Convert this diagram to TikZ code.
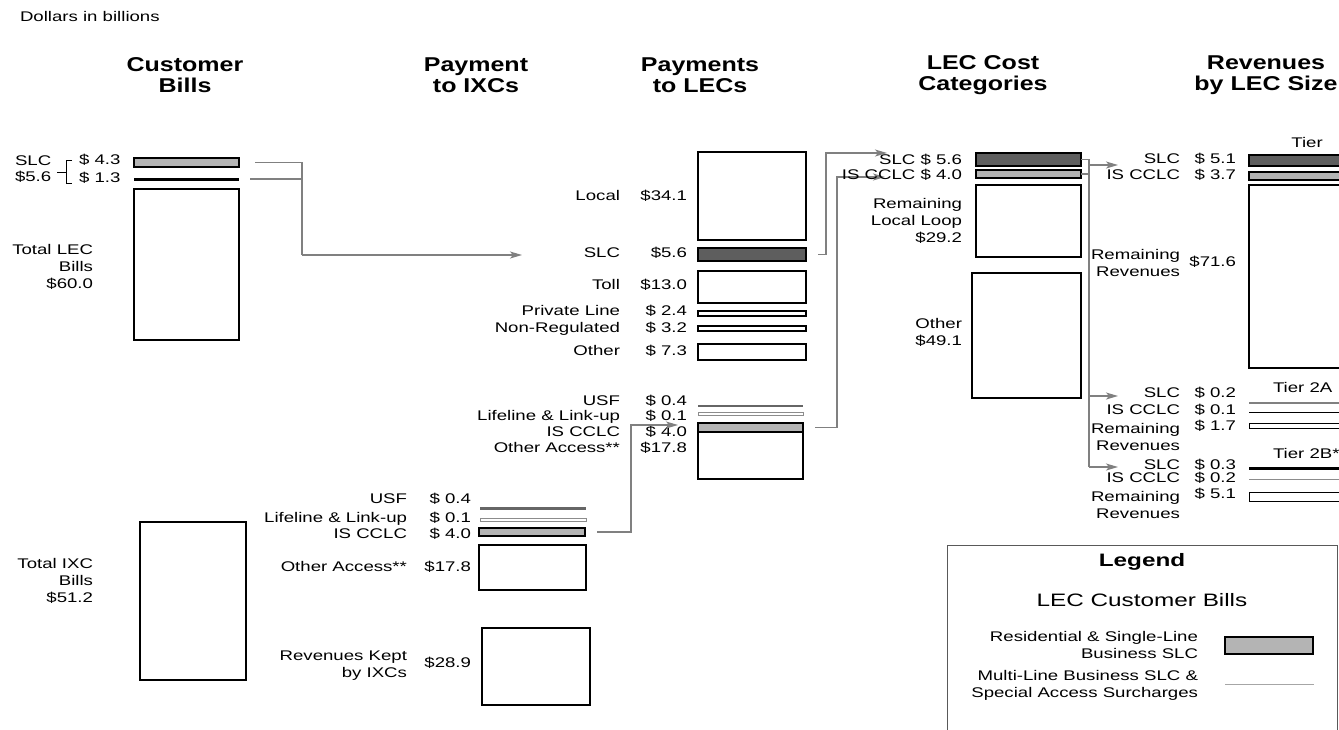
\documentclass[tikz,border=0pt]{standalone}
\usepackage{fontspec}
\setmainfont{Liberation Sans}
\newfontfamily\labfont[FakeStretch=1.33]{Liberation Sans}
\newfontfamily\hdfont[FakeStretch=1.25]{Liberation Sans}
\newfontfamily\lgfont[FakeStretch=1.35]{Liberation Sans}
\usetikzlibrary{arrows.meta,calc}
\definecolor{darkfill}{HTML}{5E5E5E}
\definecolor{lightfill}{HTML}{B4B4B4}
\definecolor{connc}{HTML}{808080}
\begin{document}
\begin{tikzpicture}[x=1pt,y=-1pt,
  lab/.style={font=\labfont\fontsize{14}{17}\selectfont, inner sep=0pt, outer sep=0pt},
  labm/.style={lab, align=right},
  head/.style={font=\hdfont\bfseries\fontsize{20}{21}\selectfont, inner sep=0pt, align=center},
  box/.style={draw=black, line width=1.3pt, fill=white, inner sep=0pt, outer sep=0pt, anchor=north west},
  bar/.style={draw=none, inner sep=0pt, outer sep=0pt, anchor=north west},
  dbl/.style={draw=black!45, line width=0.8pt, fill=white, inner sep=0pt, outer sep=0pt, anchor=north west},
  conn/.style={draw=connc, line width=1.3pt},
  arr/.style={conn, -{Stealth[length=12pt,width=7pt,inset=3pt]}}]
\clip (0,0) rectangle (1339,729);
\fill[white] (0,0) rectangle (1339,729);

% title and headings
\node[lab, anchor=mid west] (title) at (20,19) {Dollars in billions};
\node[head] (hCB) at (185,75) {Customer\\Bills};
\node[head] (hIX) at (476,75) {Payment\\to IXCs};
\node[head] (hLE) at (700,75) {Payments\\to LECs};
\node[head] (hLC) at (983,75) {LEC Cost\\Categories};
\node[head] (hRV) at (1266,75) {Revenues\\by LEC Size};

% Customer bills
\node[box, fill=lightfill, minimum width=105pt, minimum height=9pt] (cbR) at (134,158) {};
\node[bar, fill=black, minimum width=105pt, minimum height=3pt] (cbM) at (134,177.5) {};
\node[box, minimum width=105pt, minimum height=151pt] (cbT) at (134,189) {};
\node[box, minimum width=106pt, minimum height=158pt] (ixT) at (140,522) {};
\node[lab, anchor=mid west] (lSLC) at (15,163) {SLC};
\node[lab, anchor=mid west] (l56) at (15,179) {\$5.6};
\draw[line width=0.8pt] (57,172) -- (66,172) (72,160) -- (66,160) -- (66,183) -- (72,183);
\node[lab, anchor=mid west] (l43) at (79,162) {\$ 4.3};
\node[lab, anchor=mid west] (l13) at (79,180) {\$ 1.3};
\node[labm, anchor=east] (lTot) at (93,267) {Total LEC\\Bills\\\$60.0};
\node[labm, anchor=east] (lIxT) at (93,581) {Total IXC\\Bills\\\$51.2};

\coordinate (j1) at (302,255);
\coordinate (slcIn) at (522,255);
\draw[conn] ([xshift=16pt]cbR.east) -| (j1);
\draw[conn] ([xshift=11pt]cbM.east) -- (cbM.east -| j1);
\draw[arr] (j1) -- (slcIn);

% Payments to LECs
\node[box, minimum width=108pt, minimum height=88pt] (pLocal) at (698,152) {};
\node[box, fill=darkfill, minimum width=108pt, minimum height=13pt] (pSLC) at (698,248) {};
\node[box, minimum width=108pt, minimum height=32pt] (pToll) at (698,271) {};
\node[box, minimum width=108pt, minimum height=5pt] (pPriv) at (698,311) {};
\node[box, minimum width=108pt, minimum height=5pt] (pNon) at (698,326) {};
\node[box, minimum width=108pt, minimum height=16pt] (pOther) at (698,344) {};
\node[bar, fill=black!60, minimum width=105pt, minimum height=2.5pt] (pUSF) at (698,404.5) {};
\node[dbl, minimum width=105pt, minimum height=3pt] (pLife) at (698,412) {};
\node[box, minimum width=105pt, minimum height=47pt] (pOA) at (698,432) {};
\node[box, fill=lightfill, minimum width=105pt, minimum height=9pt] (pCCLC) at (698,423) {};

\node[lab, anchor=mid east] (nLocal) at (620,198) {Local};
\node[lab, anchor=mid east] (vLocal) at (687,198) {\$34.1};
\node[lab, anchor=mid east] (nSLC) at (620,255) {SLC};
\node[lab, anchor=mid east] (vSLC) at (687,255) {\$5.6};
\node[lab, anchor=mid east] (nToll) at (620,287) {Toll};
\node[lab, anchor=mid east] (vToll) at (687,287) {\$13.0};
\node[lab, anchor=mid east] (nPriv) at (620,313) {Private Line};
\node[lab, anchor=mid east] (vPriv) at (687,313) {\$ 2.4};
\node[lab, anchor=mid east] (nNon) at (620,330) {Non-Regulated};
\node[lab, anchor=mid east] (vNon) at (687,330) {\$ 3.2};
\node[lab, anchor=mid east] (nOth) at (620,353) {Other};
\node[lab, anchor=mid east] (vOth) at (687,353) {\$ 7.3};
\node[lab, anchor=mid east] (nUSF) at (620,403) {USF};
\node[lab, anchor=mid east] (vUSF) at (687,403) {\$ 0.4};
\node[lab, anchor=mid east] (nLife) at (620,418) {Lifeline \& Link-up};
\node[lab, anchor=mid east] (vLife) at (687,418) {\$ 0.1};
\node[lab, anchor=mid east] (nCCLC) at (620,434) {IS CCLC};
\node[lab, anchor=mid east] (vCCLC) at (687,434) {\$ 4.0};
\node[lab, anchor=mid east] (nOA) at (620,450) {Other Access**};
\node[lab, anchor=mid east] (vOA) at (687,450) {\$17.8};

\coordinate (j2) at (826,153);
\coordinate (cSLCin) at (887,153);
\draw[arr] ([xshift=12pt]pSLC.east) -| (j2) -- (cSLCin);
\coordinate (j3) at (837,177);
\coordinate (cCCLCin) at (885,177);
\draw[arr] ([xshift=12pt]pCCLC.east) -| (j3) -- (cCCLCin);

% Payment to IXCs
\node[bar, fill=black!60, minimum width=106pt, minimum height=2.5pt] (iUSF) at (480,507) {};
\node[dbl, minimum width=106pt, minimum height=3pt] (iLife) at (480,518.5) {};
\node[box, fill=lightfill, minimum width=106pt, minimum height=8pt] (iCCLC) at (479,528) {};
\node[box, minimum width=107pt, minimum height=45pt] (iOA) at (479,545) {};
\node[box, minimum width=108pt, minimum height=77pt] (iKept) at (482,628) {};

\node[lab, anchor=mid east] (inUSF) at (407,501) {USF};
\node[lab, anchor=mid east] (ivUSF) at (471,501) {\$ 0.4};
\node[lab, anchor=mid east] (inLife) at (407,520) {Lifeline \& Link-up};
\node[lab, anchor=mid east] (ivLife) at (471,520) {\$ 0.1};
\node[lab, anchor=mid east] (inCCLC) at (407,536) {IS CCLC};
\node[lab, anchor=mid east] (ivCCLC) at (471,536) {\$ 4.0};
\node[lab, anchor=mid east] (inOA) at (407,569) {Other Access**};
\node[lab, anchor=mid east] (ivOA) at (471,569) {\$17.8};
\node[labm, anchor=east] (inKept) at (407,666) {Revenues Kept\\by IXCs};
\node[lab, anchor=mid east] (ivKept) at (471,665) {\$28.9};

\coordinate (j4) at (631,425);
\coordinate (pCCLCin) at (678,425);
\draw[arr] ([xshift=12pt]iCCLC.east) -| (j4) -- (pCCLCin);

% LEC cost categories
\node[box, fill=darkfill, minimum width=105pt, minimum height=13pt] (cSLC) at (976,153) {};
\node[box, fill=lightfill, minimum width=105pt, minimum height=8pt] (cCCLC) at (976,170) {};
\node[box, minimum width=105pt, minimum height=72pt] (cLoop) at (976,185) {};
\node[box, minimum width=109pt, minimum height=125pt] (cOther) at (972,273) {};
\node[lab, anchor=mid east] (lcSLC) at (962,162) {SLC \$ 5.6};
\node[lab, anchor=mid east] (lcCCLC) at (962,177) {IS CCLC \$ 4.0};
\node[labm, anchor=east] (lcLoop) at (962,221) {Remaining\\Local Loop\\\$29.2};
\node[labm, anchor=east] (lcOther) at (962,332) {Other\\\$49.1};

\coordinate (vtop) at (1089,159.5);
\coordinate (vbot) at (1089,467);
\draw[conn] (cSLC.east) -- (vtop) -- (vbot);
\draw[conn] (cCCLC.east) -- (cCCLC.east -| vtop);
\coordinate (rT1in) at (1118,165);
\coordinate (rT2in) at (1118,396);
\coordinate (rT3in) at (1118,467);
\draw[arr] (rT1in -| vtop) -- (rT1in);
\draw[arr] (rT2in -| vtop) -- (rT2in);
\draw[arr] (vbot) -- (rT3in);

% Revenues by LEC size
\node[box, fill=darkfill, minimum width=100pt, minimum height=11pt] (rSLC) at (1249,155) {};
\node[box, fill=lightfill, minimum width=100pt, minimum height=8pt] (rCCLC) at (1249,172) {};
\node[box, minimum width=100pt, minimum height=183pt] (rRem) at (1249,185) {};
\node[bar, fill=black!50, minimum width=100pt, minimum height=1.8pt] (r2aSLC) at (1249,402) {};
\node[bar, fill=black, minimum width=100pt, minimum height=1.2pt] (r2aCCLC) at (1249,411.5) {};
\node[box, line width=1pt, minimum width=100pt, minimum height=5pt] (r2aRem) at (1249,423.5) {};
\node[bar, fill=black, minimum width=100pt, minimum height=3pt] (r2bSLC) at (1249,466.5) {};
\node[bar, fill=black!45, minimum width=100pt, minimum height=1.2pt] (r2bCCLC) at (1249,478.5) {};
\node[box, line width=1pt, minimum width=100pt, minimum height=9pt] (r2bRem) at (1249,492) {};

\node[lab] (tier1) at (1307,142) {Tier};
\node[lab, anchor=mid west] (tier2a) at (1273,390) {Tier 2A};
\node[lab, anchor=mid west] (tier2b) at (1273,456) {Tier 2B*};

\node[lab, anchor=mid east] (rn1) at (1180,161) {SLC};
\node[lab, anchor=mid east] (rv1) at (1236,161) {\$ 5.1};
\node[lab, anchor=mid east] (rn2) at (1180,177) {IS CCLC};
\node[lab, anchor=mid east] (rv2) at (1236,177) {\$ 3.7};
\node[labm, anchor=east] (rn3) at (1180,263) {Remaining\\Revenues};
\node[lab, anchor=mid east] (rv3) at (1236,264) {\$71.6};

\node[lab, anchor=mid east] (rn4) at (1180,395) {SLC};
\node[lab, anchor=mid east] (rv4) at (1236,395) {\$ 0.2};
\node[lab, anchor=mid east] (rn5) at (1180,412) {IS CCLC};
\node[lab, anchor=mid east] (rv5) at (1236,412) {\$ 0.1};
\node[labm, anchor=east] (rn6) at (1180,437) {Remaining\\Revenues};
\node[lab, anchor=mid east] (rv6) at (1236,428) {\$ 1.7};

\node[lab, anchor=mid east] (rn7) at (1180,467) {SLC};
\node[lab, anchor=mid east] (rv7) at (1236,467) {\$ 0.3};
\node[lab, anchor=mid east] (rn8) at (1180,480) {IS CCLC};
\node[lab, anchor=mid east] (rv8) at (1236,480) {\$ 0.2};
\node[labm, anchor=east] (rn9) at (1180,505) {Remaining\\Revenues};
\node[lab, anchor=mid east] (rv9) at (1236,496) {\$ 5.1};

% Legend
\node[draw=black!65, line width=1.2pt, minimum width=390pt, minimum height=200pt, anchor=north west, inner sep=0pt] (legend) at (947,545) {};
\node[font=\lgfont\bfseries\fontsize{18}{20}\selectfont, inner sep=0pt] (lgT) at (1142,562) {Legend};
\node[font=\lgfont\fontsize{18}{20}\selectfont, inner sep=0pt] (lgS) at (1142,600) {LEC Customer Bills};
\node[labm, anchor=east] (lg1) at (1198,645) {Residential \& Single-Line\\Business SLC};
\node[box, fill=lightfill, minimum width=88pt, minimum height=17pt] (lgB) at (1225,637) {};
\node[labm, anchor=east] (lg2) at (1198,685) {Multi-Line Business SLC \&\\Special Access Surcharges};
\node[bar, fill=black!35, minimum width=89pt, minimum height=1pt] (lgL) at (1225,683.5) {};
\end{tikzpicture}
\end{document}
